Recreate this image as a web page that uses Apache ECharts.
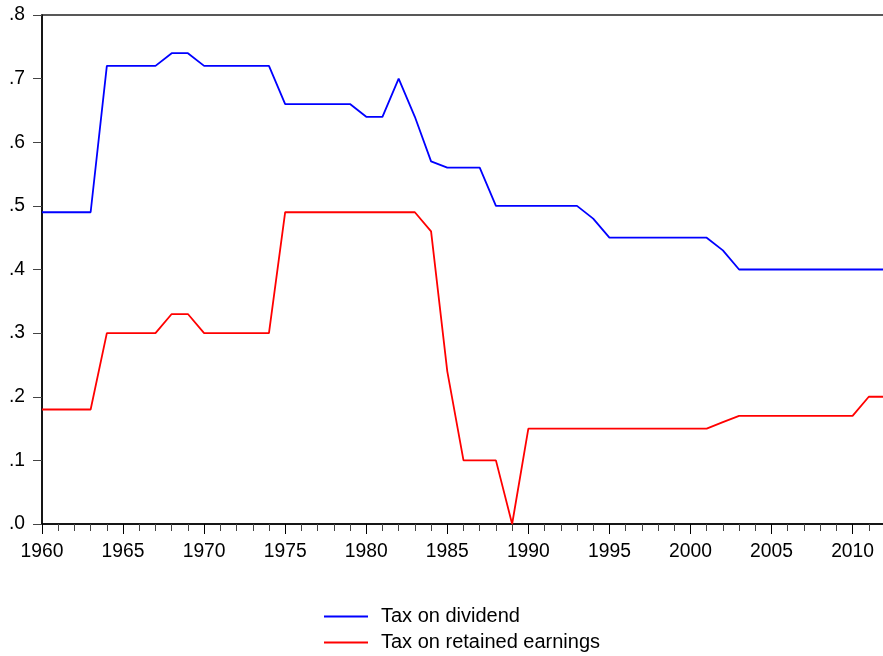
<!DOCTYPE html>
<html>
<head>
<meta charset="utf-8">
<script src="https://cdn.jsdelivr.net/npm/echarts@6/dist/echarts.min.js"></script>
<style>
html, body { margin: 0; padding: 0; background: #fff; }
#chart { width: 883px; height: 656px; }
</style>
</head>
<body>
<div id="chart"></div>
<script>
var years = [];
for (var y = 1960; y <= 2012; y++) years.push(String(y));

// tax on dividend, 1960-2012
var dividend = [
  0.49, 0.49, 0.49, 0.49, 0.72, 0.72, 0.72, 0.72, 0.74, 0.74,
  0.72, 0.72, 0.72, 0.72, 0.72, 0.66, 0.66, 0.66, 0.66, 0.66,
  0.64, 0.64, 0.70, 0.64, 0.57, 0.56, 0.56, 0.56, 0.50, 0.50,
  0.50, 0.50, 0.50, 0.50, 0.48, 0.45, 0.45, 0.45, 0.45, 0.45,
  0.45, 0.45, 0.43, 0.40, 0.40, 0.40, 0.40, 0.40, 0.40, 0.40,
  0.40, 0.40, 0.40
];
// tax on retained earnings, 1960-2012
var retained = [
  0.18, 0.18, 0.18, 0.18, 0.30, 0.30, 0.30, 0.30, 0.33, 0.33,
  0.30, 0.30, 0.30, 0.30, 0.30, 0.49, 0.49, 0.49, 0.49, 0.49,
  0.49, 0.49, 0.49, 0.49, 0.46, 0.24, 0.10, 0.10, 0.10, 0.00,
  0.15, 0.15, 0.15, 0.15, 0.15, 0.15, 0.15, 0.15, 0.15, 0.15,
  0.15, 0.15, 0.16, 0.17, 0.17, 0.17, 0.17, 0.17, 0.17, 0.17,
  0.17, 0.20, 0.20
];
var seriesNames = ['Tax on dividend', 'Tax on retained earnings'];

var font = "Arial, 'Liberation Sans', sans-serif";
var fs = 19.3;

var chart = echarts.init(document.getElementById('chart'));
chart.setOption({
  backgroundColor: '#fff',
  animation: false,
  textStyle: { fontFamily: font },
  grid: {
    left: 42, top: 15, width: 843, height: 509,
    outerBoundsMode: 'none',
    containLabel: false,
    show: true, borderColor: '#222', borderWidth: 1.5
  },
  legend: {
    orient: 'vertical',
    left: 324, top: 606,
    padding: 0,
    icon: 'rect',
    itemWidth: 44, itemHeight: 2,
    itemGap: 5,
    textStyle: { fontSize: 20, color: '#000', fontFamily: font, lineHeight: 21, padding: [0, 0, 0, 8] },
    data: seriesNames
  },
  xAxis: [{
    type: 'category',
    data: years,
    boundaryGap: false,
    axisLine: { lineStyle: { color: '#000', width: 1.5 } },
    axisTick: { show: true, interval: 0, length: 7, lineStyle: { color: '#444' } },
    axisLabel: { show: false },
    splitLine: { show: false }
  }, {
    type: 'category',
    data: years,
    position: 'bottom',
    boundaryGap: false,
    axisLine: { show: false },
    axisTick: {
      show: true, length: 10, lineStyle: { color: '#000' },
      interval: function (i) { return i % 5 === 0; }
    },
    axisLabel: {
      interval: function (i) { return i % 5 === 0; },
      color: '#000', fontSize: fs, fontFamily: font, margin: 18
    },
    splitLine: { show: false }
  }],
  yAxis: {
    type: 'value',
    min: 0, max: 0.8, interval: 0.1,
    axisLine: { show: true, lineStyle: { color: '#000', width: 1.5 } },
    axisTick: { show: true, length: 9, lineStyle: { color: '#444' } },
    axisLabel: {
      color: '#000', fontSize: fs, fontFamily: font, margin: 17,
      formatter: function (v) { return v.toFixed(1).replace(/^0/, ''); }
    },
    splitLine: { show: false }
  },
  series: [{
    name: seriesNames[0],
    type: 'line',
    data: dividend,
    symbol: 'none',
    lineStyle: { color: '#0000ff', width: 1.8 },
    itemStyle: { color: '#0000ff' }
  }, {
    name: seriesNames[1],
    type: 'line',
    data: retained,
    symbol: 'none',
    lineStyle: { color: '#ff0000', width: 1.8 },
    itemStyle: { color: '#ff0000' }
  }]
});
</script>
</body>
</html>
